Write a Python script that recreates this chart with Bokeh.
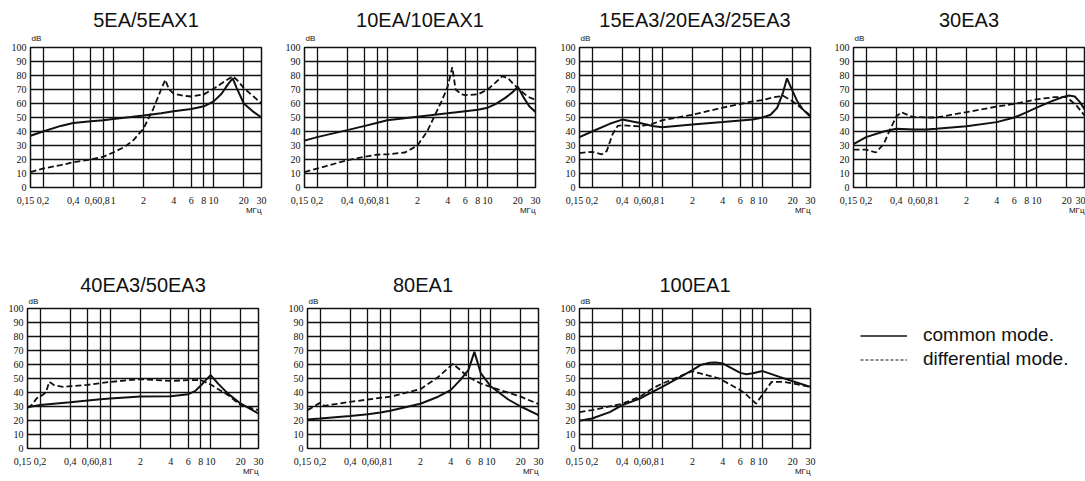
from bokeh.plotting import figure
from bokeh.layouts import row, column
from bokeh.models import FixedTicker, Legend, LegendItem, Range1d, Title
from bokeh.embed import file_html
from bokeh.resources import INLINE

# ---------------- data ----------------
freq_ticks = [0.15, 0.2, 0.4, 0.6, 0.8, 1, 2, 4, 6, 8, 10, 20, 30]
freq_labels = ["0,15\u00a0\u00a0\u00a0\u00a0", "0,2", "0,4", "0,6", "0,8", "1", "2", "4", "6", "8", "10", "20", "30"]
db_ticks = [0, 10, 20, 30, 40, 50, 60, 70, 80, 90, 100]
db_labels = ["0", "10", "20", "30", "40", "50", "60", "70", "80", "90", "100"]

titles = ["5EA/5EAX1", "10EA/10EAX1", "15EA3/20EA3/25EA3", "30EA3",
          "40EA3/50EA3", "80EA1", "100EA1"]
y_unit = "dB"
x_unit = "МГц"
legend_labels = ["common mode.", "differential mode."]

# 5EA/5EAX1
p1_cm_f = [0.15, 0.2, 0.3, 0.4, 0.6, 0.8, 1, 1.5, 2, 3, 4, 6, 8, 10, 12, 14, 15.5, 17, 20, 25, 30]
p1_cm_db = [37, 40, 44, 46, 47.3, 48, 49, 50.3, 51.4, 53, 54.5, 56, 58, 61.5, 67, 74, 78, 71, 60, 54, 50]
p1_dm_f = [0.15, 0.2, 0.3, 0.4, 0.6, 0.8, 1, 1.3, 1.6, 2, 2.5, 3, 3.3, 3.6, 4, 5, 6, 8, 10, 13, 15.5, 17, 20, 25, 30]
p1_dm_db = [11, 13.5, 16, 18, 20, 22, 25, 29, 34, 42, 56, 70, 77, 70, 67, 65.5, 65, 66.5, 70.5, 76, 79.5, 77, 71, 65, 60]

# 10EA/10EAX1
p2_cm_f = [0.15, 0.2, 0.4, 0.6, 0.8, 1, 2, 4, 6, 8, 10, 12, 15, 18, 20, 23, 26, 30]
p2_cm_db = [33.5, 36, 41, 44, 46.3, 48, 50.5, 53, 54.5, 55.5, 57, 59.5, 64, 68.5, 72, 64, 58, 54]
p2_dm_f = [0.15, 0.2, 0.4, 0.6, 0.8, 1, 1.5, 2, 2.5, 3, 3.5, 4, 4.45, 4.8, 5.5, 6, 8, 10, 12, 14, 16, 18, 20, 25, 30]
p2_dm_db = [11, 13.5, 19.5, 22, 23.5, 23.7, 25, 30, 40, 52, 62, 72, 86, 70, 66.5, 66, 66.5, 70, 75, 79.5, 78, 74, 71, 65, 62.5]

# 15EA3/20EA3/25EA3
p3_cm_f = [0.15, 0.2, 0.3, 0.4, 0.6, 0.8, 1, 2, 4, 8, 10, 12, 14, 16, 17.5, 19, 22, 25, 30]
p3_cm_db = [36, 40, 45.5, 48.5, 46, 44, 43, 45, 46.7, 48.6, 50, 52, 57, 68, 78, 72, 62, 56, 50.5]
p3_dm_f = [0.15, 0.2, 0.25, 0.28, 0.32, 0.36, 0.4, 0.6, 0.8, 1, 2, 4, 8, 10, 13, 16, 20, 25, 30]
p3_dm_db = [24.6, 25.5, 23.7, 26, 38, 44, 44.5, 43.6, 45.5, 48, 52, 57, 61.6, 62.5, 64.5, 65.5, 61.5, 56, 51.4]

# 30EA3
p4_cm_f = [0.15, 0.2, 0.3, 0.4, 0.6, 0.8, 1, 2, 4, 6, 8, 10, 14, 18, 21, 24, 27, 30]
p4_cm_db = [31, 36, 40, 42, 41.5, 41.5, 42, 43.8, 46.7, 50, 53.8, 57, 61.5, 64.5, 65.7, 65, 61, 56]
p4_dm_f = [0.15, 0.2, 0.25, 0.3, 0.35, 0.4, 0.45, 0.55, 0.6, 0.8, 1, 2, 4, 6, 10, 15, 20, 25, 30]
p4_dm_db = [27, 27, 25, 31, 42, 50.7, 53.8, 51, 50.4, 50, 50, 53.8, 57.8, 59.7, 63, 64.5, 64.5, 58.5, 51.4]

# 40EA3/50EA3
p5_cm_f = [0.15, 0.2, 0.4, 0.6, 0.8, 1, 2, 4, 6, 7, 8, 9, 10, 12, 15, 20, 30]
p5_cm_db = [29.5, 31, 33, 34.3, 35.2, 35.7, 37.2, 37.4, 38.8, 41, 45, 49, 52.4, 46, 39, 32, 25]
p5_dm_f = [0.15, 0.165, 0.186, 0.2, 0.229, 0.247, 0.28, 0.34, 0.4, 0.6, 1, 2, 4, 6, 8, 10, 15, 20, 30]
p5_dm_db = [29, 31, 36, 37, 40, 47.6, 45, 44, 44.5, 45.5, 47.6, 49.5, 48.3, 48.8, 48.8, 45.7, 38, 31, 27.4]

# 80EA1
p6_cm_f = [0.15, 0.2, 0.4, 0.6, 0.8, 1, 2, 3, 4, 5, 6, 6.9, 8, 10, 15, 20, 30]
p6_cm_db = [20.7, 21.4, 23.3, 24.5, 25.7, 27, 32, 37, 41.7, 49, 56, 69, 53.6, 44.5, 35, 30, 23.8]
p6_dm_f = [0.15, 0.2, 0.22, 0.4, 0.6, 1, 2, 3, 4.2, 5, 6, 8, 10, 20, 30]
p6_dm_db = [27.4, 32.6, 30.5, 33.3, 35, 37, 42.4, 51, 60.5, 56, 51, 46.4, 44, 37, 31.7]

# 100EA1
p7_cm_f = [0.15, 0.2, 0.3, 0.4, 0.6, 0.8, 1, 1.5, 2, 2.4, 3, 3.4, 4, 5, 6, 6.9, 8, 10, 15, 20, 30]
p7_cm_db = [19.8, 21.4, 26, 31, 35.7, 40.5, 44, 51, 56, 59.6, 61.2, 61.5, 60.8, 57, 54, 53, 53.8, 55.3, 51, 48, 44]
p7_dm_f = [0.15, 0.2, 0.4, 0.6, 0.8, 1, 2, 2.4, 3.7, 6, 7, 8.6, 12.3, 16, 20, 30]
p7_dm_db = [26, 27.4, 32, 37, 42.9, 46.4, 55.2, 53.6, 50, 41.7, 38, 32, 47.6, 47.6, 46.5, 44]

series = [
    (p1_cm_f, p1_cm_db, p1_dm_f, p1_dm_db),
    (p2_cm_f, p2_cm_db, p2_dm_f, p2_dm_db),
    (p3_cm_f, p3_cm_db, p3_dm_f, p3_dm_db),
    (p4_cm_f, p4_cm_db, p4_dm_f, p4_dm_db),
    (p5_cm_f, p5_cm_db, p5_dm_f, p5_dm_db),
    (p6_cm_f, p6_cm_db, p6_dm_f, p6_dm_db),
    (p7_cm_f, p7_cm_db, p7_dm_f, p7_dm_db),
]

# ---------------- layout / style ----------------
FRAME_W = 231
FRAME_H = 140
TICK_FONT = "Liberation Sans Narrow"
MAIN_FONT = "Liberation Sans"
INK = "#111111"

# (border_left, border_right, border_top, border_bottom, title_standoff, unit_standoff)
borders = [
    (30, 13, 47, 53, -6, 9), (30, 13, 47, 53, -6, 9), (31, 13, 47, 53, -6, 9), (30, 1, 47, 53, -6, 9),
    (27, 19, 68, 33, -6, 5), (30, 11, 68, 33, -6, 5), (30, 10, 68, 33, -6, 5),
]


def make_panel(i):
    bl, br, bt, bb, t_so, u_so = borders[i]
    cm_f, cm_db, dm_f, dm_db = series[i]
    p = figure(width=bl + FRAME_W + br, height=bt + FRAME_H + bb, title=None,
               x_axis_type="log", x_range=Range1d(0.15, 30), y_range=Range1d(0, 100),
               output_backend="svg", toolbar_location=None,
               min_border_left=bl, min_border_right=br,
               min_border_top=bt, min_border_bottom=bb)
    # unit label "dB" (nearest the frame), then the panel title
    p.add_layout(Title(text=y_unit, align="left", offset=1, standoff=u_so,
                       text_font=MAIN_FONT, text_font_size="8px",
                       text_font_style="normal", text_color=INK), "above")
    p.add_layout(Title(text=titles[i], align="center", standoff=t_so,
                       text_font=MAIN_FONT, text_font_size="20px",
                       text_font_style="normal", text_color=INK), "above")

    p.xaxis.ticker = FixedTicker(ticks=freq_ticks)
    p.xaxis.major_label_overrides = dict(zip(freq_ticks, freq_labels))
    p.yaxis.ticker = FixedTicker(ticks=db_ticks)
    p.yaxis.major_label_overrides = dict(zip(db_ticks, db_labels))
    for ax in (p.xaxis, p.yaxis):
        ax.major_tick_in = 0
        ax.major_tick_out = 0
        ax.minor_tick_line_color = None
        ax.axis_line_color = None
        ax.major_label_text_font = TICK_FONT
        ax.major_label_text_font_size = "10px"
        ax.major_label_text_color = INK
    p.xaxis.major_label_standoff = 7
    p.yaxis.major_label_standoff = 4

    p.add_layout(Title(text=x_unit, align="right", standoff=-10,
                       text_font=MAIN_FONT, text_font_size="8px",
                       text_font_style="normal", text_color=INK), "below")

    p.xgrid.ticker = FixedTicker(ticks=freq_ticks)
    p.ygrid.ticker = FixedTicker(ticks=db_ticks)
    for g in (p.xgrid, p.ygrid):
        g.grid_line_color = INK
        g.grid_line_width = 1.3
        g.grid_line_alpha = 1.0
    p.outline_line_color = INK
    p.outline_line_width = 1.5

    p.line(cm_f, cm_db, line_color=INK, line_width=2)
    p.line(dm_f, dm_db, line_color=INK, line_width=1.8, line_dash="6 3")
    return p


panels = [make_panel(i) for i in range(7)]

lg = figure(width=265, height=68 + FRAME_H + 33, x_range=Range1d(0, 1), y_range=Range1d(0, 1),
            output_backend="svg", toolbar_location=None,
            min_border_left=24, min_border_top=68, min_border_right=0, min_border_bottom=33)
r_cm = lg.line([0, 0], [-5, -5], line_color=INK, line_width=1.5)
r_dm = lg.line([0, 0], [-5, -5], line_color=INK, line_width=1.2, line_dash="3 2")
legend = Legend(items=[LegendItem(label=legend_labels[0], renderers=[r_cm]),
                       LegendItem(label=legend_labels[1], renderers=[r_dm])],
                location="top_left", margin=16, padding=0, spacing=2,
                glyph_width=47, glyph_height=21, label_height=21, label_standoff=16,
                label_text_font=MAIN_FONT, label_text_font_size="19px",
                label_text_color=INK,
                border_line_color=None, background_fill_alpha=0)
lg.add_layout(legend)
lg.axis.visible = False
lg.grid.visible = False
lg.outline_line_color = None

layout = column(row(*panels[:4]), row(panels[4], panels[5], panels[6], lg))

with open("out.html", "w") as f:
    f.write(file_html(layout, INLINE))
